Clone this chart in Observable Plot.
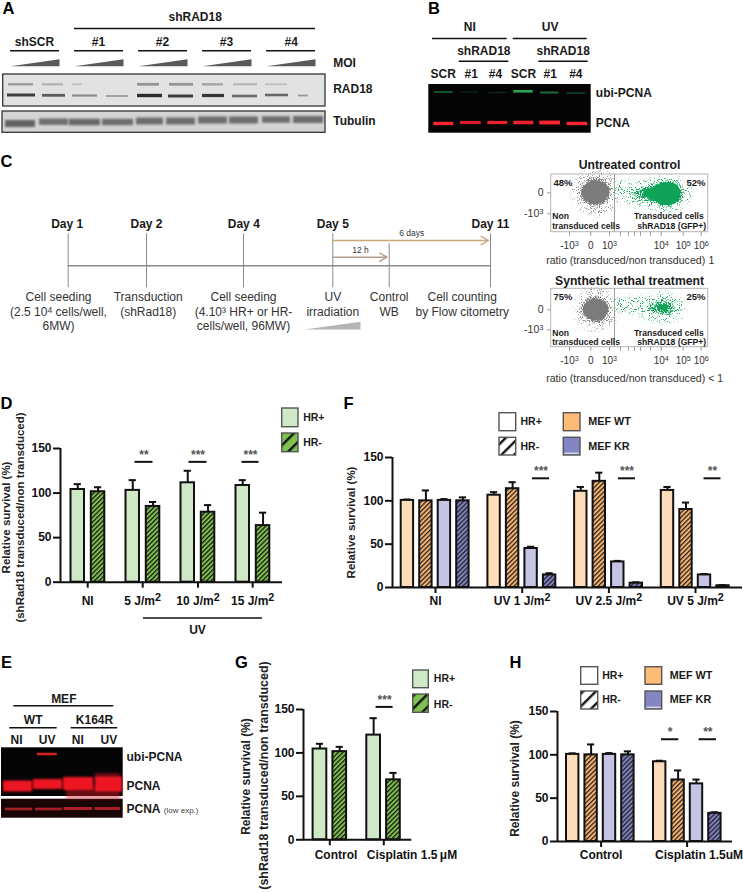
<!DOCTYPE html>
<html><head><meta charset="utf-8">
<script src="https://cdn.jsdelivr.net/npm/d3@7"></script>
<script src="https://cdn.jsdelivr.net/npm/@observablehq/plot@0.6"></script>
<style>
html,body{margin:0;padding:0;background:#fff}
#page{position:relative;width:743px;height:892px;overflow:hidden;background:#fff}
#page svg{position:absolute;overflow:visible}
</style></head><body>
<div id="page">
<svg width="0" height="0" style="left:0;top:0"><defs>
<pattern id="hGreen" patternUnits="userSpaceOnUse" width="3.3" height="3.3" patternTransform="rotate(45)"><rect width="3.3" height="3.3" fill="#7fc04f"/><rect width="1.25" height="3.3" fill="#111"/></pattern>
<pattern id="hOrange" patternUnits="userSpaceOnUse" width="3.3" height="3.3" patternTransform="rotate(45)"><rect width="3.3" height="3.3" fill="#f6b26e"/><rect width="1.25" height="3.3" fill="#222"/></pattern>
<pattern id="hBlue" patternUnits="userSpaceOnUse" width="3.3" height="3.3" patternTransform="rotate(45)"><rect width="3.3" height="3.3" fill="#7f82c2"/><rect width="1.25" height="3.3" fill="#222"/></pattern>
<pattern id="lGreen" patternUnits="userSpaceOnUse" width="9" height="9" patternTransform="rotate(45)"><rect width="9" height="9" fill="#7fc04f"/><rect width="2.4" height="9" fill="#111"/></pattern>
<pattern id="lWhite" patternUnits="userSpaceOnUse" width="9" height="9" patternTransform="rotate(45)"><rect width="9" height="9" fill="#fff"/><rect width="2.4" height="9" fill="#111"/></pattern>
<filter id="soft05" x="-5%" y="-30%" width="110%" height="160%"><feGaussianBlur stdDeviation="0.7"/></filter>
<filter id="soft1" x="-5%" y="-30%" width="110%" height="160%"><feGaussianBlur stdDeviation="1"/></filter>
<filter id="soft2" x="-5%" y="-30%" width="110%" height="160%"><feGaussianBlur stdDeviation="1.6"/></filter>
<filter id="speckle" x="-30%" y="-30%" width="160%" height="160%" color-interpolation-filters="sRGB">
<feGaussianBlur in="SourceGraphic" stdDeviation="3" result="b"/>
<feTurbulence type="fractalNoise" baseFrequency="0.9" numOctaves="2" seed="3" result="n"/>
<feColorMatrix in="n" type="matrix" values="0 0 0 0 0  0 0 0 0 0  0 0 0 0 0  2.4 0 0 0 -0.7" result="na"/>
<feComposite in="b" in2="na" operator="in" result="m"/>
<feComponentTransfer in="m"><feFuncA type="linear" slope="4" intercept="-0.9"/></feComponentTransfer>
</filter>
<filter id="sparse" x="-30%" y="-30%" width="160%" height="160%" color-interpolation-filters="sRGB">
<feGaussianBlur in="SourceGraphic" stdDeviation="3.5" result="b"/>
<feTurbulence type="fractalNoise" baseFrequency="1.1" numOctaves="1" seed="8" result="n"/>
<feColorMatrix in="n" type="matrix" values="0 0 0 0 0  0 0 0 0 0  0 0 0 0 0  5 0 0 0 -2.9" result="na"/>
<feComposite in="b" in2="na" operator="in" result="m"/>
<feComponentTransfer in="m"><feFuncA type="linear" slope="3" intercept="0"/></feComponentTransfer>
</filter>
</defs></svg>
</div>
<script>
const FONT = "Liberation Sans, Arial, sans-serif";
const INK = "#1a1a1a";

// ---- Panel D
const dGroups = ["NI", "5 J/m^2", "10 J/m^2", "15 J/m^2"];
const dValues = [[104, 101.5], [103, 85], [111.5, 78.5], [108.5, 63.5]];
const dErrors = [[6, 5], [11.5, 5], [13.5, 8], [6, 14.5]];
const dSig = ["**", "***", "***"];
// ---- Panel F
const fGroups = ["NI", "UV 1 J/m^2", "UV 2.5 J/m^2", "UV 5 J/m^2"];
const fValues = [[100.5, 100, 100.5, 100], [106.5, 114, 45, 14.5], [111, 122.5, 29.5, 5], [112, 90, 14.5, 2]];
const fErrors = [[1, 12, 1.5, 4], [3.5, 7.5, 2, 2], [5, 10, 1.2, 1], [4, 8, 1, 0.8]];
const fSig = ["***", "***", "**"];
// ---- Panel G
const gGroups = ["Control", "Cisplatin 1.5\u2009\u03bcM"];
const gValues = [[104.5, 101.5], [120.5, 69]];
const gErrors = [[6, 5.5], [19.5, 8]];
const gSig = ["***"];
// ---- Panel H
const hGroups = ["Control", "Cisplatin 1.5uM"];
const hValues = [[100.5, 100, 100.5, 100], [92, 71, 66.5, 32.5]];
const hErrors = [[1.2, 12, 1.5, 4], [1.2, 11, 5, 1.2]];
const hSig = ["*", "**"];

// ---- Bar chart layouts (pixels along the axes, kept apart from the values)
const twoFills = ["#cfe8c6", "url(#hGreen)"];
const fourFills = ["#fddcb9", "url(#hOrange)", "#c5c4e4", "url(#hBlue)"];
const charts = [
  {groups: dGroups, values: dValues, errors: dErrors, fills: twoFills, axisX: 59.5, y0: 581.7, y150: 448, len: 222,
   first: 10.5, pitch: 20.3, gpitch: 55, bw: 13.5, ticks: [27.2, 82.2, 137.5, 192.2], labels: [27.2, 82.2, 137.5, 192.2], labelDy: 19,
   sig: dSig, sigY: 135, sigX: [[74.5, 92.5], [128.5, 146.5], [181.5, 198.5]]},
  {groups: fGroups, values: fValues, errors: fErrors, fills: fourFills, axisX: 392.3, y0: 587, y150: 457, len: 350,
   first: 8.7, pitch: 18.5, gpitch: 86.7, bw: 12.4, ticks: [43, 129.7, 216.4, 303], labels: [43, 129.7, 216.4, 303], labelDy: 14,
   sig: fSig, sigY: 126, sigX: [[140, 157], [226, 243], [311.5, 328.5]]},
  {groups: gGroups, values: gValues, errors: gErrors, fills: twoFills, axisX: 302.7, y0: 839.3, y150: 709, len: 108.3,
   first: 9.6, pitch: 19.8, gpitch: 53.7, bw: 13.7, ticks: [26.3, 80.3], labels: [32.5, 108.5], labelDy: 15,
   sig: gSig, sigY: 153, sigX: [[72.6, 89.6]]},
  {groups: hGroups, values: hValues, errors: hErrors, fills: fourFills, axisX: 556.7, y0: 841, y150: 711, len: 175,
   first: 9, pitch: 18.4, gpitch: 87, bw: 12.4, ticks: [43.6, 129.6], labels: [43.6, 141.6], labelDy: 14,
   sig: hSig, sigY: 118, sigX: [[104, 121.3], [141.6, 159]]}
];

// ---- Overlay text [text, x, y, size]
const panelLetters = [["A",8,8],["B",433.5,8],["C",6,161],["D",6,403],["E",6,662],["F",348,403],["G",241,662],["H",515,662]];
const boldCentered = [
  ["shRAD18",194.7,17,12],["shSCR",34,41.7,12],["#1",98,41.7,12],["#2",162,41.7,12],["#3",226,41.7,12],["#4",290.7,41.7,12],
  ["NI",469.3,26.7,12],["UV",549.7,26.7,12],["shRAD18",483.3,51,12],["shRAD18",562.7,51,12],
  ["SCR",442.7,73.3,12],["#1",470.7,73.3,12],["#4",495,73.3,12],["SCR",523,73.3,12],["#1",549.7,73.3,12],["#4",575.3,73.3,12],
  ["Day 1",66.7,223.3,12],["Day 2",146,223.3,12],["Day 4",243.3,223.3,12],["Day 5",332.3,223.3,12],["Day 11",490,223.3,12],
  ["Untreated control",629,164.7,12.2],["Synthetic lethal treatment",629,280.3,12.2],
  ["UV",197,629.5,12],
  ["MEF",63.3,698.3,12],["WT",32.7,719.7,12],["K164R",94,719.7,12],["NI",16,739.3,12],["UV",46.7,739.3,12],["NI",77.3,739.3,12],["UV",108.3,739.3,12]
];
const boldStart = [
  ["MOI",332.7,62.7,12],["RAD18",332.7,89,12],["Tubulin",332.7,120.7,12],
  ["ubi-PCNA",595.3,92.3,12],["PCNA",595.3,122.3,12],
  ["ubi-PCNA",126,756.7,12],["PCNA",126,786,12],["PCNA",126,808.3,12],
  ["HR+",302.7,417,10.5],["HR-",302.7,442,10.5],["HR+",520,421,10.5],["HR-",520,446,10.5],
  ["HR+",433.3,678.3,10.5],["HR-",433.3,704,10.5],["HR+",601.7,675,10.5],["HR-",601.7,699.3,10.5],
  ["48%",553,182,9.5],["75%",553,296.7,9.5],
  ["Non",551.7,216,8.6],["transduced cells",551.7,226,8.6],["Non",551.7,332.3,8.6],["transduced cells",551.7,341.7,8.6]
];
const boldEnd = [
  ["52%",705,182,9.5],["25%",705,296.7,9.5],
  ["Transduced cells",703.3,216,8.6],["shRAD18 (GFP+)",705.7,226,8.6],["Transduced cells",703.3,332.3,8.6],["shRAD18 (GFP+)",705.7,341.7,8.6]
];
const meLabels = [["MEF WT",587.7,421,10.8],["MEF KR",587.7,446,10.8],["MEF WT",669.3,675,10.8],["MEF KR",669.3,699.3,10.8]];
const plainCentered = [
  ["Cell seeding",58,297,12],["(2.5 10^4 cells/well,",58,311.7,12],["6MW)",58,325.3,12],
  ["Transduction",147.7,297,12],["(shRad18)",147.7,311.7,12],
  ["Cell seeding",243,297,12],["(4.10\u00b3 HR+ or HR-",243,311.7,12],["cells/well, 96MW)",243,325.3,12],
  ["UV",332.3,297,12],["irradiation",332.3,311.7,12],["Control",388.7,297,12],["WB",388.7,311.7,12],
  ["Cell counting",461.7,297,12],["by Flow citometry",461.7,311.7,12],
  ["6 days",411.3,232.3,8.5],["12 h",360,250,8.5],
  ["-10^3",569,245,10],["0",590.3,245,10],["10^3",609,245,10],["10^4",660.7,245,10],["10^5",682.7,245,10],["10^6",700.7,245,10],
  ["-10^3",569,360,10],["0",590.3,360,10],["10^3",609,360,10],["10^4",660.7,360,10],["10^5",682.7,360,10],["10^6",700.7,360,10]
];
const plainEnd = [["0",543,192.3,10.5],["-10^3",543,213.3,10.5],["0",543,309.3,10.5],["-10^3",543,329.3,10.5]];
const plainStart = [["ratio (transduced/non transduced)",545.7,260.3,10.6],["1",708,260.3,10.6],["ratio (transduced/non transduced) < 1",545.7,378,10.6]];
const smallNote = [["(low exp.)",163.3,810,8]];
const yTitles = [
  ["Relative survival (%)",6,517,11.5],["(shRad18 transduced/non transduced)",20,517,11.5],
  ["Relative survival (%)",351,522,11.5],
  ["Relative survival (%)",245.7,776,12],["(shRad18 transduced/non transduced)",263.5,775,12.5],
  ["Relative survival (%)",515,778,12]
];

// ---- Overlay rules [x1, x2, y] and blot geometry
const heavyLines = [
  [74,315,28],[10,59,50.3],[74,123,50.3],[138,187,50.3],[202,251,50.3],[266,315,50.3],
  [432,506.7,38],[512.7,586.7,38],[458.7,508.3,60.7],[538.3,587.7,60.7],
  [143,262,617.5],[13.3,113.3,705.3],[9.3,56.7,727.3],[70.7,117.3,727.3]
];
const wedges = [[10,59,65.7,58.7],[74,123,65.7,58.7],[138,187,65.7,58.7],[202,251,65.7,58.7],[266,315,65.7,58.7]];
const uvWedge = [[304.3,360,329,321.3]];
const blots = [
  {box:[2.7,325,74,106], fill:"#e2e2e2", stroke:"#333"},
  {box:[2,325,111,132.3], fill:"#d4d4d4", stroke:"#333"},
  {box:[428.3,590.7,84,132.7], fill:"#050505", stroke:"none"},
  {box:[1,122.7,747.3,796], fill:"#050505", stroke:"none"},
  {box:[1,122.7,798.7,817.7], fill:"#1a0505", stroke:"none"}
];
// bands [x1, x2, yCenter, height, opacity]
const rad18Upper = [[8,33,84.3,2.4,.5],[42,63,84.3,2.2,.35],[72,82,84.3,2,.25],[137,159,84.3,2.8,.55],[169,193,84.3,2.8,.55],[202,223,84.3,2.5,.42],[233,257,84.3,2.2,.3],[265,287,84.3,1.8,.25]];
const rad18Lower = [[7,35,95,3,.85],[42,65,95.3,2.8,.7],[72,97,95.5,2.2,.45],[106,128,96,1.8,.35],[137,162,95.5,3.4,.95],[168,193,96,3,.85],[202,224,95.5,3.2,.9],[232,257,96,2.6,.65],[265,288,95,2.6,.65],[298,308,95.5,1.8,.4]];
const tubulinBands = [[5,35,123.5,7,.8],[39,68,121.7,6.5,.7],[69,100,122,6.5,.75],[102,133,122,6.5,.72],[136,163,121,7,.72],[166,195,121,7,.72],[198,227,120,7,.72],[229,258,120,7,.72],[262,290,119.5,6.5,.72],[293,323,119.5,7,.72]];
const bGreen = [[434,452.7,92,1.6,.5],[460,478.3,92,1.2,.18],[488.3,506.7,92.5,1.2,.2],[513.3,532.7,91.3,2.6,.85],[540,558.3,92.5,2,.55],[566.7,585,93,1.5,.35]];
const bRed = [[433.3,453.3,123.5,3.4,1],[460,480.7,122.5,3.2,.85],[487.3,507.3,122.5,3.2,.9],[513.3,533.3,122.5,3.6,.95],[539.3,560,122.5,3.8,1],[566.7,587.3,123.5,3.4,1]];
const eRedBig = [[3,32,786,11,1],[33,62,784,10,1],[63,93,783.5,13,1],[95,122,784,15,1]];
const eRedSmear = [[66,120,792,14,.45],[95,120,777,8,.45]];
const eUbi = [[36.7,56.7,754,2.6,.85]];
const eLow = [[5,32,809,2.6,.7],[35,62,809,2.6,.7],[63.5,92,808.5,3,.75],[94.5,120,808.5,3,.7]];

// ---- Timeline of panel C
const timelineX = [[67.7,490,265.3]];
const dayStems = [[67.7,233.3],[146,233.3],[243,233.3],[332.3,233.3],[388.7,243.3],[490,233.3]];
const arrows = [[332.3,488,240,"#c9a97c"],[332.3,386.5,256.7,"#b59d8c"]];

// ---- Flow panels: boxes [x1,x2,y1,y2], divider, tick marks
const flowBoxes = [[550.7,707.7,174,231.7],[550.7,707.7,288.3,346.7]];
const flowTickX = [569,590.3,609,620,628,634,660.7,682.7,700.7,640,650];
const flowTickY = [[192.3],[213.3],[309.3],[329.3]];
// estimated density blobs [x, y, r]
const grayCore = [[595,191.7,12],[591,192,10],[599,191,10],[595,309,11],[591,309,9],[599,308.5,9]];
const grayHalo = [[595,191.7,15],[595,309,14]];
const graySparse = [[595,192,22],[595,309,20]];
const greenSolid = [[646,193,3.5],[652,193,6],[659,193,9],[665,193,11.5],[669,193,11],[659,307,2.5],[664,307,3.5]];
const greenCore = [[636,193,5],[645,193,7],[655,193,10],[665,193,13],[671,193,12],[648,307,3.5],[656,307,5.5],[664,307,8],[669,308,6]];
const greenSparse = [[624,192,10],[636,193,11],[652,193,14],[668,193,17],[676,193,13],[622,304,7],[634,305,8],[650,307,11],[664,307,14],[672,308,11]];

// ---- Legend swatches [x1,x2,y1,y2,fill]
const swatches = [
  [281.7,298,408,426.7,"#cfe8c6"],[281.7,298,433,451.7,"url(#lGreen)"],
  [499,515.7,412.7,430.7,"#ffffff"],[499,515.7,437.3,455,"url(#lWhite)"],[563.3,580,412.7,430.7,"#fdbb78"],[563.3,580,437.3,455,"#8486c4"],
  [412.7,428.3,670,687.7,"#cfe8c6"],[412.7,428.3,694,712.3,"url(#lGreen)"],
  [580.7,597.7,666.7,684.3,"#ffffff"],[580.7,597.7,691,709,"url(#lWhite)"],[645,661.7,666.7,684.3,"#fdbb78"],[645,661.7,691,709,"#8486c4"]
];
const swatchSheen = [[564.5,578.8,452.8],[646.2,660.5,706.8]];

// ---- helpers
const page = document.getElementById("page");
function words(list, {weight="bold", anchor="middle", fill=INK, rotate=0, extra={}} = {}) {
  return Plot.text(list, {x:d=>d[1], y:d=>d[2], text:d=>d[0], fontSize:d=>d[3], fontWeight:weight, textAnchor:anchor, fill, rotate, lineAnchor:"middle", ...extra});
}
function bands(list, fill, label) {
  return Plot.rect(list, {x1:d=>d[0], x2:d=>d[1], y1:d=>d[2]-d[3]/2, y2:d=>d[2]+d[3]/2, fill, fillOpacity:d=>d[4], ariaLabel:()=>label});
}
function blobs(list, fill, label) {
  return Plot.dot(list,{x:d=>d[0],y:d=>d[1],r:d=>d[2],fill,ariaLabel:()=>label});
}
function tri(list) {
  return list.flatMap((w,i)=>[{i,x:w[0],y:w[2]},{i,x:w[1],y:w[2]},{i,x:w[1],y:w[3]}]);
}
const overlay = Plot.plot({
  width:743, height:892, margin:0,
  x:{domain:[0,743], range:[0,743], axis:null}, y:{domain:[0,892], range:[0,892], axis:null},
  r:{type:"identity"},
  style:{fontFamily:FONT, background:"transparent"},
  marks:[
    ...blots.map(b=>Plot.rect([b.box],{x1:d=>d[0],x2:d=>d[1],y1:d=>d[2],y2:d=>d[3],fill:b.fill,stroke:b.stroke,strokeWidth:1.3})),
    bands(rad18Upper,"#555","soft05"),bands(rad18Lower,"#222","soft05"),bands(tubulinBands,"#444","soft1"),
    bands(bGreen,"#2fc266","soft05"),bands(bRed,"#ff2233","soft05"),
    bands(eRedSmear,"#d8141e","soft2"),bands(eRedBig,"#ee1822","soft1"),bands(eUbi,"#ee2a2a","soft05"),bands(eLow,"#e02a30","soft05"),
    Plot.ruleY(heavyLines,{x1:d=>d[0],x2:d=>d[1],y:d=>d[2],stroke:"#111",strokeWidth:1.5}),
    Plot.line(tri(wedges),{x:"x",y:"y",z:"i",fill:"#5a5a5a",stroke:"none"}),
    Plot.line(tri(uvWedge),{x:"x",y:"y",z:"i",fill:"#b4b4b4",stroke:"none"}),
    // timeline
    Plot.ruleY(timelineX,{x1:d=>d[0],x2:d=>d[1],y:d=>d[2],stroke:"#8a8a8a",strokeWidth:1.6}),
    Plot.ruleX(dayStems,{x:d=>d[0],y1:d=>d[1],y2:()=>287.3,stroke:"#8a8a8a",strokeWidth:1}),
    Plot.arrow(arrows,{x1:d=>d[0],x2:d=>d[1],y1:d=>d[2],y2:d=>d[2],stroke:d=>d[3],strokeWidth:1.4,headLength:9,bend:0,inset:0}),
    // flow
    blobs(graySparse,"#8a8a8a","sparse"),
    blobs(grayHalo,"#808080","speckle"),
    blobs(greenSparse,"#1aa85f","sparse"),
    blobs(greenCore,"#0fa35a","speckle"),
    Plot.dot(grayCore,{x:d=>d[0],y:d=>d[1],r:d=>d[2],fill:"#7c7c7c"}),
    Plot.dot(greenSolid,{x:d=>d[0],y:d=>d[1],r:d=>d[2],fill:"#0fa35a"}),
    Plot.rect(flowBoxes,{x1:d=>d[0],x2:d=>d[1],y1:d=>d[2],y2:d=>d[3],fill:"none",stroke:"#b5b5b5",strokeWidth:1}),
    Plot.ruleX(flowBoxes,{x:()=>614,y1:d=>d[2],y2:d=>d[3],stroke:"#a0a0a0",strokeWidth:1}),
    ...flowBoxes.map(b=>Plot.ruleX(flowTickX,{x:d=>d,y1:()=>b[3],y2:()=>b[3]+4,stroke:"#999",strokeWidth:1})),
    Plot.ruleY(flowTickY,{y:d=>d[0],x1:()=>547,x2:()=>550.7,stroke:"#999",strokeWidth:1}),
    // legend swatches
    Plot.rect(swatches,{x1:d=>d[0],x2:d=>d[1],y1:d=>d[2],y2:d=>d[3],fill:d=>d[4],stroke:"#555",strokeWidth:1.4}),
    Plot.ruleY(swatchSheen,{x1:d=>d[0],x2:d=>d[1],y:d=>d[2],stroke:"#d8d8ee",strokeWidth:1.4}),
    // text
    Plot.text(panelLetters,{x:d=>d[1],y:d=>d[2],text:d=>d[0],fontSize:16.5,fontWeight:"bold",fill:"#000",lineAnchor:"middle"}),
    words(boldCentered), words(boldStart,{anchor:"start"}), words(boldEnd,{anchor:"end"}),
    words(meLabels,{anchor:"start"}),
    words(plainCentered,{weight:"normal",fill:"#333"}), words(plainEnd,{weight:"normal",anchor:"end",fill:"#333"}),
    words(plainStart,{weight:"normal",anchor:"start",fill:"#333"}), words(smallNote,{weight:"normal",anchor:"start",fill:"#444"}),
    words(yTitles,{rotate:-90,fill:"#222"})
  ]
});
overlay.style.left="0px"; overlay.style.top="0px";
page.append(overlay);

function barChart(c) {
  const mL=45, mR=1, mT=50, mB=40;
  const rows = c.groups.flatMap((g,i)=>c.values[i].map((v,s)=>({i,s,v,e:c.errors[i][s]})));
  const L = (d)=>c.first+d.i*c.gpitch+d.s*c.pitch;
  const mid = (d)=>L(d)+c.bw/2;
  const sigs = c.sig.map((t,k)=>({t,x1:c.sigX[k][0],x2:c.sigX[k][1]}));
  const el = Plot.plot({
    width:mL+c.len+mR, height:mT+(c.y0-c.y150)+mB,
    marginLeft:mL, marginRight:mR, marginTop:mT, marginBottom:mB,
    x:{domain:[0,c.len], axis:null}, y:{domain:[0,150], axis:null},
    style:{fontFamily:FONT, background:"transparent", color:"#111", overflow:"visible"},
    marks:[
      Plot.ruleX(rows,{x:mid,y1:"v",y2:d=>d.v+d.e,stroke:"#111",strokeWidth:2}),
      Plot.ruleY(rows,{y:d=>d.v+d.e,x1:d=>mid(d)-3.6,x2:d=>mid(d)+3.6,stroke:"#111",strokeWidth:2}),
      ...c.fills.map((fill,s)=>Plot.rect(rows.filter(d=>d.s===s),{x1:L,x2:d=>L(d)+c.bw,y1:()=>0,y2:"v",fill,stroke:"#111",strokeWidth:2})),
      Plot.ruleX([0],{y1:0,y2:150,stroke:"#111",strokeWidth:2}),
      Plot.ruleY([0],{stroke:"#111",strokeWidth:2}),
      Plot.axisY({ticks:[0,50,100,150],tickSize:7,tickPadding:2,strokeWidth:2,stroke:"#111",fontSize:12,fontWeight:"bold",fill:"#111",label:null}),
      Plot.axisX({ticks:c.ticks,tickSize:6,strokeWidth:2,stroke:"#111",tickFormat:()=>"",label:null}),
      Plot.text(c.groups,{x:(d,i)=>c.labels[i],y:()=>0,dy:c.labelDy,text:d=>d,fontSize:12,fontWeight:"bold",fill:"#111",lineAnchor:"middle"}),
      Plot.ruleY(sigs,{y:()=>c.sigY,x1:"x1",x2:"x2",stroke:"#111",strokeWidth:2}),
      Plot.text(sigs,{x:d=>(d.x1+d.x2)/2,y:()=>c.sigY,dy:-7,text:"t",fontSize:12,fontWeight:"bold",fill:"#555",lineAnchor:"middle"})
    ]
  });
  el.style.left=(c.axisX-mL)+"px";
  el.style.top=(c.y150-mT)+"px";
  page.append(el);
}
charts.forEach(barChart);

// apply band filters and raised exponents
for (const id of ["soft05","soft1","soft2","speckle","sparse"]) {
  page.querySelectorAll(`[aria-label="${id}"]`).forEach(n=>{
    const g=n.parentNode; g.setAttribute("filter",`url(#${id})`); n.removeAttribute("aria-label");
  });
}
page.querySelectorAll("text").forEach(t=>{
  const s=t.textContent;
  if(!s.includes("^")) return;
  const m=s.match(/^(.*)\^(\S)(.*)$/);
  t.textContent="";
  const add=(txt,attrs)=>{const e=document.createElementNS("http://www.w3.org/2000/svg","tspan");e.textContent=txt;for(const k in attrs)e.setAttribute(k,attrs[k]);t.append(e);};
  add(m[1],{});
  add(m[2],{dy:"-0.4em","font-size":s.includes("J/m")?"90%":"72%"});
  if(m[3]) add(m[3],{dy:"0.3em"});
});
</script>
</body></html>
